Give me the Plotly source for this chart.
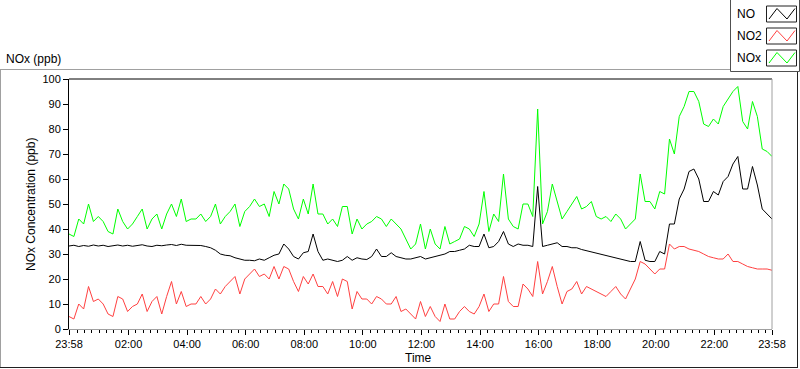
import pandas as pd
import plotly.graph_objects as go

# ---- data (10-minute readings, 23:58 -> 23:58 next day) ----
no_ppb = [33.2, 33.5, 33.0, 33.4, 33.1, 33.6, 33.2, 33.5, 33.0, 33.3, 33.6, 33.2, 33.5, 33.1, 33.4, 33.7, 33.2, 33.0, 33.5, 33.3, 33.6, 33.8, 33.4, 33.9, 33.5,
          33.5, 33.3, 33.4, 33.0, 32.5, 31.5, 30.0, 29.5, 29.3, 28.5, 28.0, 27.5, 27.5, 27.3, 28.0, 27.5, 28.5, 29.5, 30.0, 34.0, 32.0, 29.0, 28.0, 30.5,
          31, 38, 31, 27.5, 28, 27.5, 27, 27.5, 29, 27.5, 28.5, 28, 27.8, 29, 32, 29, 29, 30.5, 29, 28.5, 28, 28, 28.5, 29,
          28, 28.5, 29, 29.5, 30, 31, 31, 31.5, 32, 33.5, 33, 33, 38, 32.5, 33, 35, 39, 34, 33, 34, 33.5, 33.5, 33, 57,
          33, 33.5, 34, 34.5, 33, 33, 32.5, 32.5, 31.8, 31.3, 31, 30.5, 29.8, 29.5, 29, 28.5, 28, 27.5, 27, 27, 35, 27.5, 27, 27,
          31, 30, 42, 42, 52, 56, 63, 64, 60, 51, 51, 55, 53.6, 59, 61, 66, 69, 56, 56, 65, 57.6, 48, 46, 44]

no2_ppb = [5, 4, 10, 8, 17, 11, 12, 10, 6, 5, 13, 12, 7, 9, 10, 14, 7, 11, 13, 6, 13, 19, 10, 15, 9,
           10, 10, 13, 10, 12, 16, 14, 17, 19, 21, 14, 20, 22, 24, 21, 22, 20, 25, 20, 25, 24, 19, 15, 21,
           18, 22, 17, 17, 14, 19, 13, 20, 19, 8, 15, 12, 12, 10, 13, 12, 10, 10, 13, 7, 8, 6, 4, 11,
           5, 9, 5, 3, 10, 4, 4, 7, 9, 7, 6, 9, 14, 7, 10, 10, 21, 11, 9, 9, 18, 16, 13, 27,
           14, 19, 25, 17, 10, 15, 16, 19, 14, 17, 16, 15, 14, 13, 15, 17, 14, 12, 16, 20, 27, 26, 24, 22,
           24, 24, 34, 32, 33, 33, 32, 31.5, 31, 30, 29, 28.5, 28, 28, 30, 27, 27, 26, 25, 24.5, 24, 24, 24, 23.5]

nox_ppb = [38, 37, 44, 42, 50, 43, 45, 43, 39, 38, 48, 43, 40, 42, 45, 48, 40, 44, 46, 40, 46, 50, 45, 52, 43,
           44, 44, 46, 43, 45, 50, 42, 45, 47, 50, 41, 47, 49, 52, 49, 50, 45, 55, 50, 58, 56, 48, 44, 52,
           46, 58, 46, 46, 42, 44, 41, 49, 49, 38, 44, 40, 42, 43, 45, 44, 41, 44, 42, 40, 36, 32, 34, 42,
           32, 40, 34, 32, 41, 34, 35, 36, 41, 40, 37, 42, 55, 39, 46, 43, 62, 44, 41, 40, 50, 50, 45, 88,
           42, 47, 58, 51, 44, 47, 50, 53, 48, 49, 51, 45, 44, 45, 43, 46, 44, 40, 42, 44, 62, 51, 51, 48,
           55, 54, 76, 70, 85, 89, 95, 95, 91, 82, 81, 84, 82, 89, 92, 95, 97, 83, 80, 91, 85, 72, 71, 69]

series_names = ["NO", "NO2", "NOx"]
series_colors = ["#000000", "#ff4040", "#00ff00"]

t_start = "2000-01-01 23:58"
t_end = "2000-01-02 23:58"
times = pd.date_range(t_start, periods=len(no_ppb), freq="10min")

tick_vals = [t_start] + [f"2000-01-02 {h:02d}:00" for h in range(2, 24, 2)] + [t_end]
tick_text = ["23:58"] + [f"{h:02d}:00" for h in range(2, 24, 2)] + ["23:58"]

# ---- layout geometry (pixels) ----
W, H = 800, 369
L, R, T, B = 69, 28, 79, 40
PW, PH = W - L - R, H - T - B


def px(x):
    return (x - L) / PW


def py(y):
    return (H - B - y) / PH


FONT = "Liberation Sans, Arial, sans-serif"

fig = go.Figure()
for name, vals, col in zip(series_names, [no_ppb, no2_ppb, nox_ppb], series_colors):
    fig.add_trace(go.Scatter(x=times, y=vals, mode="lines", name=name,
                             line=dict(color=col, width=1), showlegend=False, hoverinfo="skip"))

shapes = []
# outer raised frame
shapes.append(dict(type="line", xref="paper", yref="paper", x0=px(0), x1=px(730), y0=py(69.5), y1=py(69.5),
                   line=dict(color="#a0a0a0", width=1)))
shapes.append(dict(type="line", xref="paper", yref="paper", x0=px(0.5), x1=px(0.5), y0=py(69.5), y1=py(368),
                   line=dict(color="#a0a0a0", width=1)))
shapes.append(dict(type="line", xref="paper", yref="paper", x0=px(0), x1=px(798), y0=py(367.5), y1=py(367.5),
                   line=dict(color="#202020", width=1)))
shapes.append(dict(type="line", xref="paper", yref="paper", x0=px(797.5), x1=px(797.5), y0=py(71), y1=py(368),
                   line=dict(color="#202020", width=1)))
# plot-area border: top black, right gray
shapes.append(dict(type="line", xref="paper", yref="paper", x0=0, x1=1, y0=1, y1=1,
                   line=dict(color="#000000", width=1)))
shapes.append(dict(type="line", xref="paper", yref="paper", x0=1, x1=1, y0=0, y1=1,
                   line=dict(color="#a0a0a0", width=1)))
# legend box
shapes.append(dict(type="rect", xref="paper", yref="paper", x0=px(730.5), x1=px(799.5), y0=py(-2), y1=py(71.5),
                   line=dict(color="#505050", width=1), fillcolor="white"))
sw_tops = [6, 28, 50]
for top, col in zip(sw_tops, series_colors):
    shapes.append(dict(type="rect", xref="paper", yref="paper", x0=px(766.5), x1=px(796.5), y0=py(top), y1=py(top + 16),
                       line=dict(color="#202020", width=1), fillcolor="white"))
    pts = [(769, top + 13), (777, top + 2.5), (787, top + 13), (795, top + 2.5)]
    path = "M " + " L ".join(f"{px(a)},{py(b)}" for a, b in pts)
    shapes.append(dict(type="path", xref="paper", yref="paper", path=path, line=dict(color=col, width=1)))

annotations = []
for i, (name, top) in enumerate(zip(series_names, sw_tops)):
    annotations.append(dict(text=name, xref="paper", yref="paper", x=px(735), y=py(top + 8), xanchor="left",
                            yanchor="middle", showarrow=False, font=dict(family=FONT, size=12, color="black")))
annotations.append(dict(text="NOx (ppb)", xref="paper", yref="paper", x=px(4), y=py(59), xanchor="left",
                        yanchor="middle", showarrow=False, font=dict(family=FONT, size=12, color="black")))
annotations.append(dict(text="NOx Concentration (ppb)", xref="paper", yref="paper", x=px(31), y=py(205),
                        xanchor="center", yanchor="middle", textangle=-90, showarrow=False,
                        font=dict(family=FONT, size=12, color="black")))
annotations.append(dict(text="Time", xref="paper", yref="paper", x=px(418), y=py(358), xanchor="center",
                        yanchor="middle", showarrow=False, font=dict(family=FONT, size=12, color="black")))

fig.update_layout(
    width=W, height=H, margin=dict(l=L, r=R, t=T, b=B, pad=0),
    paper_bgcolor="white", plot_bgcolor="white",
    shapes=shapes, annotations=annotations, showlegend=False, hovermode=False,
    xaxis=dict(range=[t_start, t_end], tickmode="array", tickvals=tick_vals, ticktext=tick_text,
               ticks="outside", ticklen=5, tickcolor="black", tickwidth=1,
               showline=True, linecolor="#a0a0a0", linewidth=1, showgrid=False, zeroline=False,
               tickfont=dict(family=FONT, size=11, color="black"),
               minor=dict(ticks="outside", ticklen=3, tickcolor="black", tickwidth=1,
                          tick0="2000-01-01 00:00", dtick=15 * 60 * 1000, showgrid=False)),
    yaxis=dict(range=[0, 100], tickmode="linear", tick0=0, dtick=10,
               ticks="outside", ticklen=5, tickcolor="black", tickwidth=1,
               showline=True, linecolor="black", linewidth=1, showgrid=False, zeroline=False,
               tickfont=dict(family=FONT, size=11, color="black")),
)

fig.write_html("out.html", config={"displayModeBar": False},
               post_script="document.body.style.margin='0px';document.body.style.overflow='hidden';")
